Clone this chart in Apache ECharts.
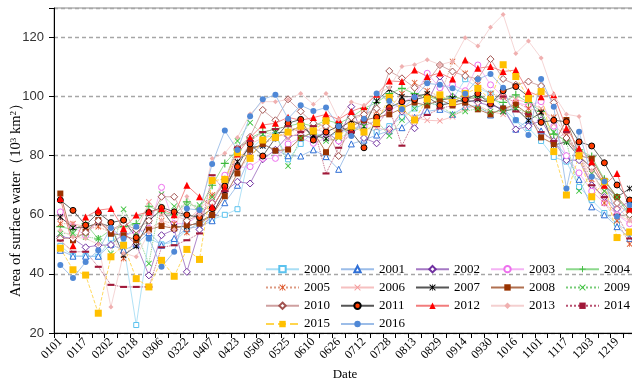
<!DOCTYPE html>
<html><head><meta charset="utf-8">
<script src="https://cdn.jsdelivr.net/npm/echarts@6/dist/echarts.min.js"></script>
<style>html,body{margin:0;padding:0;background:#fff}#c{width:632px;height:386px}</style>
</head><body><div id="c"></div>
<script>
const dates = ['0101','0109','0117','0125','0202','0210','0218','0226','0306','0314','0322','0330','0407','0415','0423','0501','0509','0517','0525','0602','0610','0618','0626','0704','0712','0720','0728','0805','0813','0821','0829','0906','0914','0922','0930','1008','1016','1024','1101','1109','1117','1125','1203','1211','1219','1227'];
const yMin = 20, yMax = 130, yStep = 20;

const y2000 = [49.5,46,46,45.8,52,50,22.7,52,50,50.8, 55,57,58.4,60,61.9,82,86,87,78.8,84, 88,86,88,89,90,88,90,93,96,98, 97,99,105.9,103,101,96,92,89.4,85,79.6, 78,69.4,65,60.6,57,54];
const y2001 = [48,46,46,46,50,48,50,54,49.7,52, 55.4,56,58,64.1,70,80,84,82,80,79.9, 82,79.7,75.4,84,85.3,87,88.4,89.5,93,95, 95.7,94,96.6,97,93.8,96.4,89,92,88.4,85, 80,72,62.7,60,56,52];
const y2002 = [52.6,52,49,49.7,49.8,53.7,50,39.5,53.1,55, 40.7,55,60,68,71.2,70.6,78.8,82,86.7,87, 86,88,85,96.6,86,84.2,89,95,89.3,98, 106.8,100,99,98,97,96,88.9,90,92,85, 78.5,78.5,70,66,62,64.6];
const y2003 = [61,56,53,58,54,53,54.2,55.4,69.3,57, 57,60,64,73.4,76,76.3,79.1,79.1,84,86, 84.2,86,85,88,90,92,95,98,100,107.9, 103,104,102,110.7,104,100,98,97,98.3,90, 80,74.2,68,64,60,57];
const y2004 = [56,55,57,51.8,55,56,57,62.9,61,60, 64.4,62,70,77.4,82,86,88,89,90,91, 90,92,91,93,96,98,101,102.8,101,100, 99,100,99,100,99,98,100.6,98,95,87.3, 85,82,79.7,72,66,60];
const y2005 = [57,57,55,56,54,45.2,52,55,58,57, 54,58,66.7,70,74.6,80,84,86,88,89, 88,90,89,92,94,95,96,101,104.7,102, 100,111.9,107.9,104,101,100,98,96,95,93, 87,80,72,64,58,50.1];
const y2006 = [58.7,57,56,57,55,56,54,64.4,60,60, 58,62,66,70,78,84,86,88,86,88, 89,88,90,91,92,89.5,88.4,95,93,92, 91.8,93.2,96,97,95,94,99,98,96,90.7, 86,80,74,68,63,58];
const y2007 = [59.3,55.6,55.7,57.3,56,46.3,49.4,58,61.8,56, 56,57.6,60,68,78,82.8,83.3,87.8,88,90, 87,85.8,88.9,92,90,98.5,102.5,100,100,101, 98.9,99.4,98,99,98,95,96,91.9,94.6,83.6, 84.7,79.7,76,70,66,68.9];
const y2008 = [67.2,51.4,54.2,58.2,53.6,53.1,51.4,55,56.2,55.4, 56.5,57,59.9,66.3,74,82,84,81.7,82.1,86, 88,81.2,88,90,92,93,94,96,98,97, 99,97,98,95.7,94,96,97.2,94,86.2,84, 92.1,80,79,71.5,66,61.4];
const y2009 = [53.7,53.7,52.5,52,46.9,61.9,54,43.5,67,62.9, 63,63.3,66,70,85,91.2,87.3,88,76.5,86, 88,85,86,88,90,92,86.7,92.1,96,98, 97,94,95,96,95,94.9,96,94.4,92,88, 84.7,68.1,74,68,66,60];
const y2010 = [52,52,54,58,55,57,55,58,66.1,66.1, 58,60,64,72,82.5,86.4,95.5,92,99.1,95, 91,90,79.9,93,94,96,108.7,106.2,103,105, 110.7,108.5,107,106,112.7,106,104,105.1,103.6,98, 86,80,76,70,64,60];
const y2011 = [65,61.5,56.5,60.7,57.4,58.2,52.3,60.8,62.5,61, 60,59.1,62.1,69.7,76.3,84,79.9,86,91,92.3, 85.3,88,90,88,82.7,93,96.3,98.3,99,100, 97,98,99,101,97.5,102,103.4,100,91.3,92, 91.5,84.7,83.3,77.6,70.1,65];
const y2012 = [65.5,49.5,59.3,61.6,62.1,55.4,59.9,61,62.1,60, 70,66.1,62.7,69,80.6,86.2,90.4,91,93,92, 92.9,94,92.3,95,96.6,100.8,105.3,105.1,109,106.8, 108,106,112.4,109.6,110.2,108.5,109,101.7,100,100.6, 89.3,82.5,78,70,74,62];
const y2013 = [54.8,52.5,52,50,28.8,47,45.8,54,58,55, 66.2,60,79.1,80.8,86.2,94.1,98.3,98.3,99,101.1, 97.4,101.1,92.3,98.2,97,101,103,110.2,110.8,112.5, 110.8,111.9,119.9,117.1,123.5,127.8,114.6,118.8,113.1,100.7, 94,93.3,75,66,60,58];
const y2014 = [51.3,47.5,47.5,42.4,36.3,35.6,35.6,35.6,49,49.7, 51.4,53.7,73.4,68,82.8,85,88,89,90,88, 90,74,82.7,88,92,90,96,83.4,92,93.8, 96,97,100,99,98,100,95,94,88,85, 88,80,70,66,60,52];
const y2015 = [48.7,41.4,39.6,26.7,45.8,49.7,38.4,35.6,44.6,39.2, 48.3,44.9,71.6,72,81,79.1,85.3,86.2,88,90, 88.4,91.8,86.7,90,88,91.2,99.7,96,92.1,99.2, 100.6,98,101.1,102.8,99,110.8,106.8,99.4,101.7,81.4, 66.7,80,66.1,71.2,52.3,54.2];
const y2016 = [43,38.6,44,48,55.5,52,56,52,42.4,47.5, 62.1,61.6,77.2,88.5,81.9,93.4,99.1,100.6,92.5,97.1, 95.1,96.3,90,86.7,92.5,101.1,98.5,95.7,99.8,104.5, 104,102.8,101,105.9,107.7,103,92.1,87,106,96.6, 68.9,88.1,72.9,71.3,59.4,63.3];

const years = ['2000','2001','2002','2003','2004','2005','2006','2007','2008','2009','2010','2011','2012','2013','2014','2015','2016'];
const values = [y2000,y2001,y2002,y2003,y2004,y2005,y2006,y2007,y2008,y2009,y2010,y2011,y2012,y2013,y2014,y2015,y2016];

const PLUS = 'path://M4.3,0H5.7V4.3H10V5.7H5.7V10H4.3V5.7H0V4.3H4.3Z';
const XMARK = 'path://M0,1L1,0L5,4L9,0L10,1L6,5L10,9L9,10L5,6L1,10L0,9L4,5Z';
const STAR = 'path://M0,1L1,0L5,4L9,0L10,1L6,5L10,9L9,10L5,6L1,10L0,9L4,5ZM4.5,0H5.5V10H4.5Z';
const DASH = 'path://M0,0H10V3H0Z';

const styles = [
  {symbol:'rect', size:5, fill:'#fff', border:'#5bc2ee', line:'#a8def5'},
  {symbol:'triangle', size:6, fill:'#fff', border:'#2f6fd6', line:'#9bbde9'},
  {symbol:'diamond', size:7, fill:'#fff', border:'#7030a0', line:'#a578c4'},
  {symbol:'circle', size:6, fill:'#fff', border:'#ee6fee', line:'#f4b2f4'},
  {symbol:PLUS, size:8, fill:'#3cb93c', line:'#8cd88c'},
  {symbol:STAR, size:6, fill:'#e0582c', line:'#dd9a82', dash:'dotted'},
  {symbol:XMARK, size:6, fill:'#f59a9a', line:'#f6c0c0'},
  {symbol:STAR, size:6, fill:'#000', line:'#555'},
  {symbol:'rect', size:6, fill:'#993300', line:'#b07050'},
  {symbol:XMARK, size:6, fill:'#3dc23d', line:'#77cc77', dash:'dotted'},
  {symbol:'diamond', size:7, fill:'#fff', border:'#a0524f', line:'#cfa0a0'},
  {symbol:'circle', size:6, fill:'#ff3c00', border:'#000', line:'#555'},
  {symbol:'triangle', size:7, fill:'#ff0000', line:'#f27c7c'},
  {symbol:'diamond', size:5, fill:'#f0b0b0', line:'#f4d0d0'},
  {symbol:DASH, size:7, fill:'#a01838', line:'#b85070', dash:'dotted'},
  {symbol:'rect', size:7, fill:'#ffc000', line:'#ffd54d', dash:'dashed'},
  {symbol:'circle', size:6, fill:'#4f88d6', line:'#9cbde8'}
];

const series = years.map((y, k) => {
  const st = styles[k];
  return {
    name: y, type: 'line', data: values[k],
    showAllSymbol: true, symbol: st.symbol, symbolSize: st.size, symbolKeepAspect: true,
    lineStyle: {color: st.line, width: 0.9, type: st.dash || 'solid'},
    itemStyle: {color: st.fill, borderColor: st.border || st.fill, borderWidth: st.border ? 1 : 0},
    emphasis: {disabled: true}
  };
});

const serif = 'Liberation Serif, Times New Roman, serif';
const chart = echarts.init(document.getElementById('c'), null, {renderer: 'canvas'});
chart.setOption({
  animation: false,
  backgroundColor: '#fff',
  grid: {left: 54, right: -4, top: 8, bottom: 53, show: true, borderColor: '#8c8c8c', borderWidth: 1, containLabel: false, outerBoundsMode: 'none'},
  legend: {
    data: years, left: 265, top: 262, width: 372, padding: 0,
    itemGap: 4, itemWidth: 33, itemHeight: 8,
    textStyle: {fontFamily: serif, fontSize: 13, color: '#000', width: 32, lineHeight: 14.3}
  },
  xAxis: {
    type: 'category', data: dates, boundaryGap: true,
    axisLine: {lineStyle: {color: '#000', width: 1}},
    axisTick: {show: true, interval: 0, length: 5, lineStyle: {color: '#000'}},
    axisLabel: {interval: 1, rotate: 45, fontFamily: serif, fontSize: 12, color: '#000', margin: 7},
    splitLine: {show: false},
    name: 'Date', nameLocation: 'middle', nameGap: 35, nameMoveOverlap: false,
    nameTextStyle: {fontFamily: serif, fontSize: 13, color: '#000'}
  },
  yAxis: {
    type: 'value', min: yMin, max: yMax, interval: yStep,
    axisLine: {show: true, lineStyle: {color: '#000', width: 1}},
    axisTick: {show: true, length: 5, lineStyle: {color: '#000'}},
    axisLabel: {formatter: v => (v === yMax ? '' : String(v)), fontFamily: 'Liberation Sans, Arial, sans-serif', fontSize: 13, color: '#333', margin: 10},
    splitLine: {show: true, lineStyle: {color: '#a6a6a6', type: [4, 3], width: 1.3}},
    name: 'Area of surface water（10{sup|3} km{sup|2}）', nameLocation: 'middle', nameGap: 30, nameRotate: 90, nameMoveOverlap: false,
    nameTextStyle: {
      fontFamily: serif, fontSize: 14.5, color: '#000', padding: [0, 52, 0, 0],
      rich: {sup: {fontFamily: serif, fontSize: 9, verticalAlign: 'top', color: '#000', padding: [0, 0, 4, 0]}}
    }
  },
  series: series
});
</script>
</body></html>
